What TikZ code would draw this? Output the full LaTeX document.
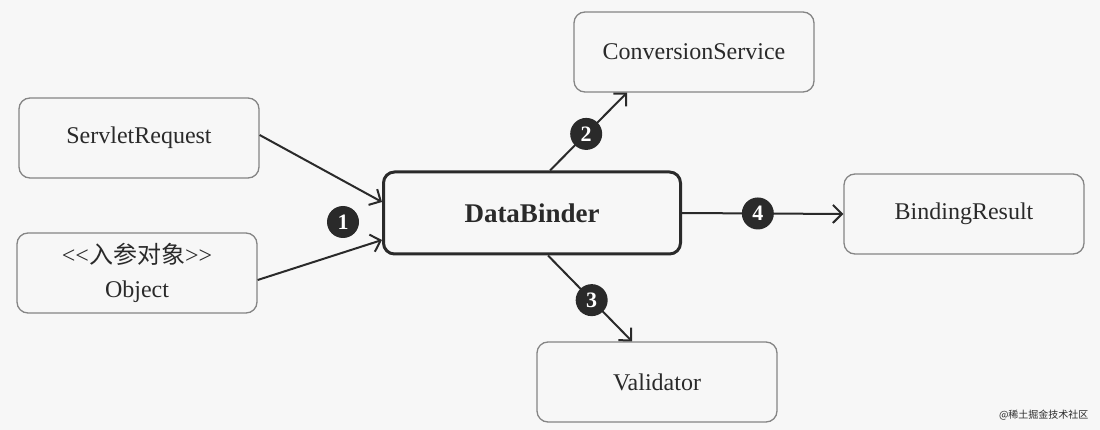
\documentclass[tikz,border=0pt]{standalone}
\usepackage{fontspec}
\setmainfont{Liberation Serif}
\newfontfamily\cjk{Noto Sans CJK SC}
\usetikzlibrary{arrows.meta,calc}
\definecolor{bg}{HTML}{F7F7F7}
\definecolor{boxline}{HTML}{858585}
\definecolor{ink}{HTML}{2A2A2A}
\begin{document}
\begin{tikzpicture}[x=1pt,y=-1pt,
  box/.style={draw=boxline,line width=1.3pt,rounded corners=11pt,fill=bg,minimum width=240pt,minimum height=80pt,inner sep=0pt,font=\fontsize{24}{34}\selectfont,text=ink,align=center},
  mainbox/.style={box,draw=ink,line width=3pt,minimum width=297pt,minimum height=82pt,font=\fontsize{27}{30}\selectfont\bfseries},
  arr/.style={draw=ink,line width=2pt,-{Straight Barb[length=9pt,width=18pt]}},
  num/.style={circle,fill=ink,text=white,inner sep=0pt,minimum size=32pt,font=\fontsize{22}{22}\selectfont\bfseries}]
\useasboundingbox (0,0) rectangle (1100,430);
\fill[bg] (0,0) rectangle (1100,430);
\node[box] (sr) at (139,138) {ServletRequest};
\node[box] (ob) at (137,273) {<\kern0pt<{\cjk 入参对象}>\kern0pt>\\Object};
\node[mainbox] (db) at (532,213) {DataBinder};
\node[box] (cs) at (694,52) {ConversionService};
\node[box] (br) at (964,214) {BindingResult};
\node[box] (va) at (657,382) {Validator};
\draw[arr] ([yshift=3pt]sr.east) -- ([yshift=11pt]db.west);
\draw[arr] ([yshift=-7pt]ob.east) -- ([yshift=-27pt]db.west);
\node[num] (n1) at (343,222) {1};
\draw[arr] ([xshift=18pt]db.north) -- node[num,pos=0.47] (n2) {2} ([xshift=-67pt]cs.south);
\draw[arr] ([xshift=16pt]db.south) -- node[num,pos=0.52] (n3) {3} ([xshift=-25pt]va.north);
\draw[arr] (db.east) -- node[num,pos=0.47] (n4) {4} (br.west);
\node[anchor=east,font=\fontsize{10}{12}\selectfont\cjk,text=ink] (wm) at (1092,415) {@稀土掘金技术社区};
\end{tikzpicture}
\end{document}
